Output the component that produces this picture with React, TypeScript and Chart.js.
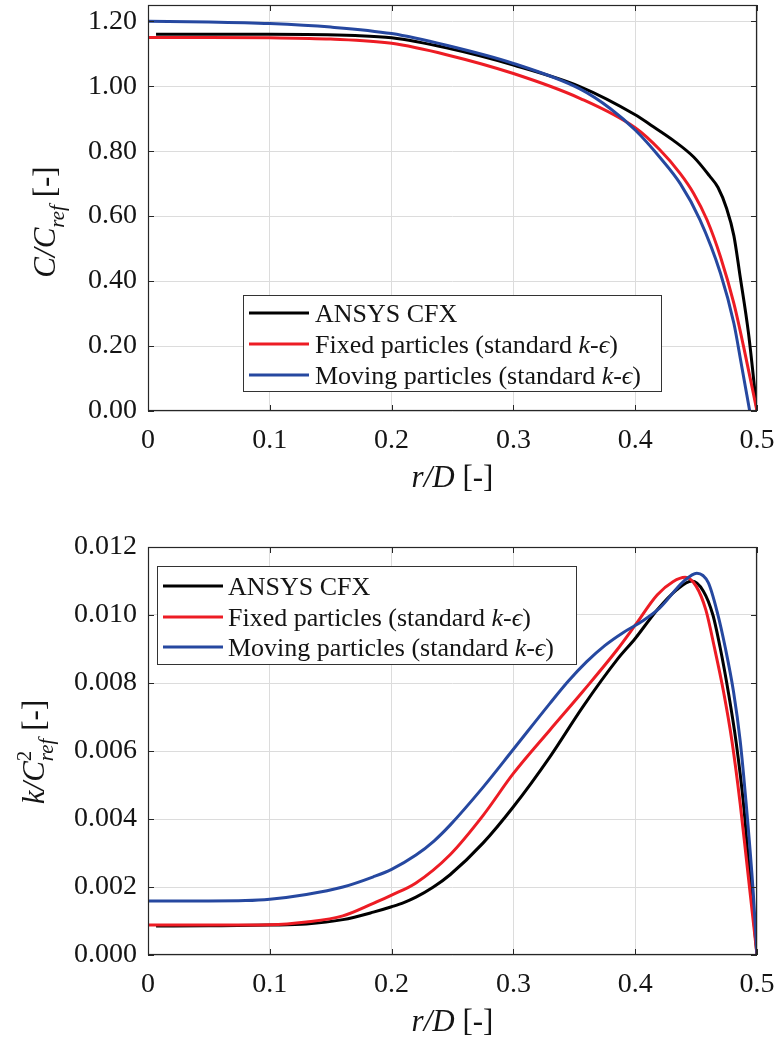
import React, { useEffect, useRef } from 'react';
import { Chart, registerables } from 'chart.js';

Chart.register(...registerables);

// ---------- data ----------
const seriesNames = ['ANSYS CFX', 'Fixed particles (standard k-ϵ)', 'Moving particles (standard k-ϵ)'];
const seriesColors = ['#000000', '#ed1c24', '#2648a0'];

const xTicks = [0, 0.1, 0.2, 0.3, 0.4, 0.5];
const yTicksC = [0, 0.2, 0.4, 0.6, 0.8, 1.0, 1.2];
const yTicksK = [0, 0.002, 0.004, 0.006, 0.008, 0.01, 0.012];

// Top panel: C / C_ref
const rC_cfx = [0.0066, 0.05, 0.1, 0.17, 0.2, 0.245, 0.3, 0.355, 0.4, 0.413, 0.431, 0.448, 0.461, 0.468, 0.475, 0.481, 0.486, 0.493, 0.5];
const vC_cfx = [1.16, 1.16, 1.16, 1.156, 1.149, 1.118, 1.065, 0.998, 0.912, 0.88, 0.834, 0.782, 0.724, 0.688, 0.624, 0.54, 0.418, 0.24, 0.0];

const rC_fixed = [0, 0.05, 0.1, 0.15, 0.2, 0.245, 0.3, 0.355, 0.4, 0.42, 0.437, 0.448, 0.459, 0.47, 0.481, 0.489, 0.5];
const vC_fixed = [1.15, 1.15, 1.149, 1.145, 1.132, 1.097, 1.039, 0.962, 0.872, 0.805, 0.731, 0.67, 0.588, 0.475, 0.331, 0.198, 0.0];

const rC_moving = [0, 0.05, 0.1, 0.15, 0.2, 0.245, 0.3, 0.355, 0.38, 0.4, 0.42, 0.437, 0.453, 0.47, 0.481, 0.487, 0.494];
const vC_moving = [1.2, 1.198, 1.193, 1.182, 1.162, 1.126, 1.07, 0.991, 0.93, 0.865, 0.782, 0.7, 0.59, 0.424, 0.27, 0.147, 0.0];

// Bottom panel: k / C_ref^2
const rK_cfx = [0.0066, 0.05, 0.1, 0.13, 0.16, 0.185, 0.2, 0.21, 0.22, 0.234, 0.248, 0.275, 0.3, 0.33, 0.357, 0.385, 0.4, 0.418, 0.434, 0.4465, 0.456, 0.4638, 0.4697, 0.4766, 0.4829, 0.4889, 0.4928, 0.5];
const vK_cfx = [0.00085, 0.00086, 0.00088, 0.00091, 0.00104, 0.00126, 0.00142, 0.00154, 0.0017, 0.00199, 0.00236, 0.00329, 0.00436, 0.00583, 0.0073, 0.00868, 0.00931, 0.01015, 0.01074, 0.011, 0.0107, 0.01, 0.00905, 0.0077, 0.00625, 0.00445, 0.00285, 0.0];

const rK_fixed = [0, 0.05, 0.1, 0.13, 0.16, 0.185, 0.2, 0.22, 0.248, 0.275, 0.3, 0.33, 0.357, 0.385, 0.4, 0.418, 0.431, 0.441, 0.45, 0.458, 0.465, 0.4725, 0.4794, 0.4862, 0.4915, 0.5];
const vK_fixed = [0.00088, 0.00088, 0.00089, 0.00097, 0.00115, 0.00152, 0.00176, 0.00212, 0.00295, 0.0041, 0.00534, 0.00662, 0.00775, 0.00897, 0.0097, 0.01059, 0.01098, 0.01111, 0.01085, 0.01015, 0.00905, 0.00775, 0.0063, 0.00445, 0.00275, 0.0];

const rK_moving = [0, 0.05, 0.08, 0.1, 0.13, 0.16, 0.185, 0.2, 0.22, 0.235, 0.248, 0.275, 0.3, 0.33, 0.345, 0.36, 0.375, 0.39, 0.405, 0.42, 0.4395, 0.4506, 0.46, 0.4676, 0.4739, 0.4807, 0.4862, 0.4911, 0.4969, 0.5];
const vK_moving = [0.00159, 0.00159, 0.0016, 0.00164, 0.00178, 0.002, 0.0023, 0.00252, 0.00294, 0.00336, 0.00382, 0.00493, 0.00605, 0.0074, 0.00805, 0.00862, 0.0091, 0.00948, 0.0098, 0.0102, 0.01098, 0.01123, 0.01095, 0.01005, 0.00905, 0.00775, 0.0063, 0.00445, 0.00185, 0.0];

// ---------- styling ----------
const FAMILY = "'Liberation Serif', 'DejaVu Serif', serif";
const GRID = '#dcdcdc';
const AXIS = '#262626';
const TEXT = '#141414';

type Seg = { t: string; it?: boolean; role?: 'sub' | 'sup'; stack?: boolean };

function fontStr(size: number, it?: boolean) {
  return `${it ? 'italic ' : ''}${size}px ${FAMILY}`;
}

function layoutRich(ctx: CanvasRenderingContext2D, segs: Seg[], size: number) {
  const items: any[] = [];
  let x = 0;
  let pending = 0;
  for (const s of segs) {
    const sz = s.role ? size * 0.68 : size;
    const dy = s.role === 'sub' ? size * 0.3 : s.role === 'sup' ? -size * 0.42 : 0;
    ctx.font = fontStr(sz, s.it);
    const w = ctx.measureText(s.t).width;
    items.push({ ...s, x, sz, dy, w });
    if (s.stack) {
      pending = w;
    } else {
      x += Math.max(w, pending);
      pending = 0;
    }
  }
  return { items, width: x };
}

function drawRich(ctx: CanvasRenderingContext2D, segs: Seg[], size: number, x0: number, y0: number, align: 'left' | 'center') {
  const { items, width } = layoutRich(ctx, segs, size);
  const start = align === 'center' ? x0 - width / 2 : x0;
  ctx.textAlign = 'left';
  ctx.textBaseline = 'alphabetic';
  for (const it of items) {
    ctx.font = fontStr(it.sz, it.it);
    ctx.fillText(it.t, start + it.x, y0 + it.dy);
  }
}

function nameSegs(name: string): Seg[] {
  const idx = name.indexOf('k-ϵ');
  if (idx < 0) return [{ t: name }];
  return [
    { t: name.slice(0, idx) },
    { t: 'k', it: true },
    { t: '-' },
    { t: 'ϵ', it: true },
    { t: name.slice(idx + 3) },
  ];
}

type Panel = {
  height: number;
  plotTop: number;
  plotBottom: number;
  ymax: number;
  yTicks: number[];
  dec: number;
  rs: number[][];
  vs: number[][];
  legend: { l: number; t: number; r: number; b: number; lx1: number; lx2: number; tx: number; rows: number[] };
  yTitle: Seg[];
  yTitleX: number;
  yTitleY: number;
  xTitleY: number;
};

const PLOT_LEFT = 148;
const PLOT_RIGHT = 757;
const WIDTH = 776;

const panelTop: Panel = {
  height: 520,
  plotTop: 5,
  plotBottom: 411,
  ymax: 1.25,
  yTicks: yTicksC,
  dec: 2,
  rs: [rC_cfx, rC_fixed, rC_moving],
  vs: [vC_cfx, vC_fixed, vC_moving],
  legend: { l: 243, t: 295, r: 662, b: 392, lx1: 249, lx2: 309, tx: 315, rows: [313, 344, 375] },
  yTitle: [{ t: 'C/C', it: true }, { t: 'ref', it: true, role: 'sub' }, { t: ' [-]' }],
  yTitleX: 55,
  yTitleY: 222,
  xTitleY: 487,
};

const panelBottom: Panel = {
  height: 522,
  plotTop: 27,
  plotBottom: 435,
  ymax: 0.012,
  yTicks: yTicksK,
  dec: 3,
  rs: [rK_cfx, rK_fixed, rK_moving],
  vs: [vK_cfx, vK_fixed, vK_moving],
  legend: { l: 157, t: 46, r: 577, b: 145, lx1: 163, lx2: 223, tx: 228, rows: [66, 97, 127] },
  yTitle: [{ t: 'k/C', it: true }, { t: '2', role: 'sup', stack: true }, { t: 'ref', it: true, role: 'sub' }, { t: ' [-]' }],
  yTitleX: 44,
  yTitleY: 232,
  xTitleY: 511,
};

function decorPlugin(p: Panel) {
  return {
    id: 'decor',
    afterDatasetsDraw(chart: any) {
      const ctx: CanvasRenderingContext2D = chart.ctx;
      const L = p.legend;
      ctx.save();
      ctx.fillStyle = '#ffffff';
      ctx.fillRect(L.l, L.t, L.r - L.l, L.b - L.t);
      ctx.strokeStyle = '#333333';
      ctx.lineWidth = 1;
      ctx.strokeRect(L.l + 0.5, L.t + 0.5, L.r - L.l - 1, L.b - L.t - 1);
      seriesNames.forEach((name, i) => {
        const y = L.rows[i];
        ctx.strokeStyle = seriesColors[i];
        ctx.lineWidth = 3;
        ctx.beginPath();
        ctx.moveTo(L.lx1, y);
        ctx.lineTo(L.lx2, y);
        ctx.stroke();
        ctx.fillStyle = TEXT;
        drawRich(ctx, nameSegs(name), 26, L.tx, y + 8.5, 'left');
      });
      ctx.restore();
    },
    afterDraw(chart: any) {
      const ctx: CanvasRenderingContext2D = chart.ctx;
      const a = chart.chartArea;
      const xs = chart.scales.x;
      const ys = chart.scales.y;
      ctx.save();
      ctx.strokeStyle = AXIS;
      ctx.lineWidth = 1.2;
      ctx.strokeRect(a.left + 0.5, a.top + 0.5, a.right - a.left - 1, a.bottom - a.top - 1);
      ctx.lineWidth = 1;
      ctx.beginPath();
      for (const v of xTicks) {
        const px = Math.round(xs.getPixelForValue(v)) + 0.5;
        ctx.moveTo(px, a.bottom);
        ctx.lineTo(px, a.bottom - 6);
        ctx.moveTo(px, a.top);
        ctx.lineTo(px, a.top + 6);
      }
      for (const v of p.yTicks) {
        const py = Math.round(ys.getPixelForValue(v)) + 0.5;
        ctx.moveTo(a.left, py);
        ctx.lineTo(a.left + 6, py);
        ctx.moveTo(a.right, py);
        ctx.lineTo(a.right - 6, py);
      }
      ctx.stroke();

      ctx.fillStyle = TEXT;
      drawRich(ctx, [{ t: 'r/D', it: true }, { t: ' [-]' }], 31, (a.left + a.right) / 2, p.xTitleY, 'center');
      ctx.translate(p.yTitleX, p.yTitleY);
      ctx.rotate(-Math.PI / 2);
      drawRich(ctx, p.yTitle, 31, 0, 0, 'center');
      ctx.restore();
    },
  };
}

function buildConfig(p: Panel): any {
  return {
    type: 'line',
    data: {
      datasets: seriesNames.map((name, i) => ({
        label: name,
        data: p.rs[i].map((r, j) => ({ x: r, y: p.vs[i][j] })),
        borderColor: seriesColors[i],
        backgroundColor: seriesColors[i],
        borderWidth: 3,
        pointRadius: 0,
        fill: false,
        cubicInterpolationMode: 'monotone',
        order: 3 - i,
      })),
    },
    options: {
      responsive: false,
      animation: false,
      devicePixelRatio: 1,
      layout: { padding: { top: p.plotTop, right: WIDTH - PLOT_RIGHT, left: 0, bottom: 0 } },
      plugins: { legend: { display: false }, tooltip: { enabled: false }, title: { display: false } },
      scales: {
        x: {
          type: 'linear',
          min: 0,
          max: 0.5,
          afterBuildTicks: (s: any) => {
            s.ticks = xTicks.map((v) => ({ value: v }));
          },
          afterFit: (s: any) => {
            s.height = p.height - p.plotBottom;
            s.paddingLeft = 0;
            s.paddingRight = 0;
          },
          grid: { color: GRID, lineWidth: 1, drawTicks: false },
          border: { display: false },
          ticks: {
            autoSkip: false,
            maxRotation: 0,
            padding: 13,
            color: TEXT,
            font: { family: FAMILY, size: 28 },
            callback: (v: number) => (v === 0 ? '0' : Number(v).toFixed(1)),
          },
        },
        y: {
          type: 'linear',
          min: 0,
          max: p.ymax,
          afterBuildTicks: (s: any) => {
            s.ticks = p.yTicks.map((v) => ({ value: v }));
          },
          afterFit: (s: any) => {
            s.width = PLOT_LEFT;
            s.paddingTop = 0;
            s.paddingBottom = 0;
          },
          grid: { color: GRID, lineWidth: 1, drawTicks: false },
          border: { display: false },
          ticks: {
            autoSkip: false,
            padding: 11,
            color: TEXT,
            font: { family: FAMILY, size: 28 },
            callback: (v: number) => Number(v).toFixed(p.dec),
          },
        },
      },
    },
    plugins: [decorPlugin(p)],
  };
}

export default function App() {
  const c1 = useRef<HTMLCanvasElement>(null);
  const c2 = useRef<HTMLCanvasElement>(null);
  useEffect(() => {
    const a = new Chart(c1.current as HTMLCanvasElement, buildConfig(panelTop));
    const b = new Chart(c2.current as HTMLCanvasElement, buildConfig(panelBottom));
    return () => {
      a.destroy();
      b.destroy();
    };
  }, []);
  return (
    <div style={{ position: 'absolute', left: 0, top: 0, width: WIDTH, height: 1042, background: '#ffffff' }}>
      <canvas ref={c1} width={WIDTH} height={panelTop.height} style={{ position: 'absolute', left: 0, top: 0 }} />
      <canvas ref={c2} width={WIDTH} height={panelBottom.height} style={{ position: 'absolute', left: 0, top: 520 }} />
    </div>
  );
}
